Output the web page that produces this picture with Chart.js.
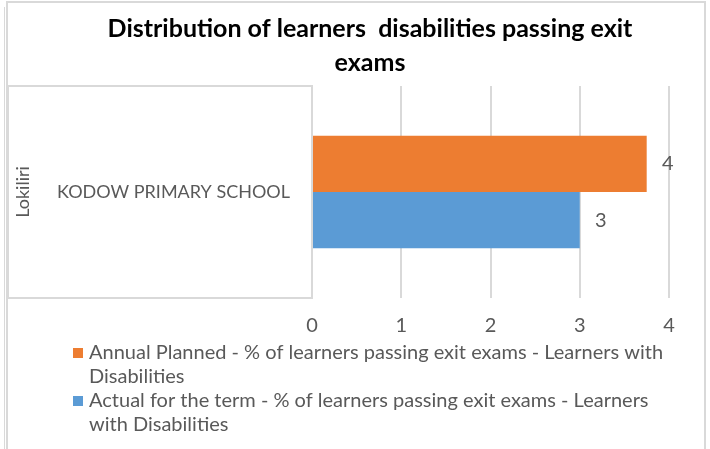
<!DOCTYPE html>
<html>
<head>
<meta charset="utf-8">
<script src="https://cdn.jsdelivr.net/npm/chart.js@4.4.1/dist/chart.umd.min.js"></script>
<style>
  html, body { margin: 0; padding: 0; background: #fff; }
  #wrap { width: 710px; height: 449px; }
</style>
</head>
<body>
<div id="wrap"><canvas id="chart" width="710" height="449"></canvas></div>
<script>
// data
const titleLines = ['Distribution of learners  disabilities passing exit', 'exams'];
const groupLabel = 'Lokiliri';
const categories = ['KODOW PRIMARY SCHOOL'];
const seriesNames = [
  'Annual Planned - % of learners passing exit exams - Learners with Disabilities',
  'Actual for the term - % of learners passing exit exams - Learners with Disabilities'
];
const plannedValues = [3.75];
const actualValues = [3];
const seriesColors = ['#ED7D31', '#5B9BD5'];
const xMin = 0;
const xMax = 4;
const xStep = 1;

const FONT = 'Lato, "Open Sans", sans-serif';
const TEXT = '#595959';
const GRID = '#D9D9D9';

// frame, title, box around the category axis
const framePlugin = {
  id: 'frame',
  beforeDraw(chart) {
    const ctx = chart.ctx;
    const area = chart.chartArea;
    const y = chart.scales.y;
    ctx.save();
    ctx.strokeStyle = GRID;
    ctx.lineWidth = 2;
    ctx.beginPath();
    ctx.moveTo(7, chart.height);
    ctx.lineTo(7, 2);
    ctx.lineTo(705, 2);
    ctx.lineTo(705, chart.height);
    ctx.stroke();
    ctx.lineWidth = 1;
    ctx.beginPath();
    ctx.moveTo(4.5, 7);
    ctx.lineTo(4.5, chart.height);
    ctx.stroke();
    // box around category labels
    ctx.lineWidth = 2;
    ctx.strokeRect(y.left, area.top, area.left - y.left, area.bottom - area.top);
    ctx.restore();
  },
  afterDraw(chart) {
    const ctx = chart.ctx;
    ctx.save();
    ctx.fillStyle = '#000';
    ctx.font = 'bold 25px ' + FONT;
    ctx.textAlign = 'center';
    ctx.textBaseline = 'middle';
    titleLines.forEach((t, i) => ctx.fillText(t, 370, 29 + i * 34));
    ctx.restore();
  }
};

// value labels at the end of the bars
const valueLabels = {
  id: 'valueLabels',
  afterDatasetsDraw(chart) {
    const ctx = chart.ctx;
    ctx.save();
    ctx.fillStyle = TEXT;
    ctx.font = '20px ' + FONT;
    ctx.textAlign = 'center';
    ctx.textBaseline = 'middle';
    chart.data.datasets.forEach((ds, i) => {
      chart.getDatasetMeta(i).data.forEach((bar, j) => {
        ctx.fillText(String(Math.round(ds.data[j])), bar.x + 21, bar.y);
      });
    });
    ctx.restore();
  }
};

// legend under the axis, wrapped like the original
const wrapLegend = {
  id: 'wrapLegend',
  afterDraw(chart) {
    const ctx = chart.ctx;
    const maxW = 580;
    let y = 353;
    ctx.save();
    ctx.font = '20px ' + FONT;
    ctx.textBaseline = 'middle';
    chart.data.datasets.forEach(ds => {
      const words = ds.label.split(' ');
      const lines = [];
      let line = '';
      words.forEach(w => {
        const test = line ? line + ' ' + w : w;
        if (ctx.measureText(test).width > maxW && line) {
          lines.push(line);
          line = w;
        } else {
          line = test;
        }
      });
      lines.push(line);
      ctx.fillStyle = ds.backgroundColor;
      ctx.fillRect(73, y - 5, 10, 10);
      ctx.fillStyle = TEXT;
      lines.forEach((l, k) => ctx.fillText(l, 89, y + k * 24));
      y += lines.length * 24;
    });
    ctx.restore();
  }
};

new Chart(document.getElementById('chart'), {
  type: 'bar',
  data: {
    labels: categories,
    datasets: [
      { label: seriesNames[0], data: plannedValues, backgroundColor: seriesColors[0] },
      { label: seriesNames[1], data: actualValues, backgroundColor: seriesColors[1] }
    ]
  },
  options: {
    indexAxis: 'y',
    responsive: false,
    animation: false,
    categoryPercentage: 0.53,
    barPercentage: 1,
    layout: { padding: { left: 8, right: 41, top: 86, bottom: 95 } },
    plugins: {
      legend: { display: false },
      title: { display: false },
      tooltip: { enabled: false }
    },
    scales: {
      x: {
        min: xMin,
        max: xMax,
        ticks: { stepSize: xStep, color: TEXT, font: { family: FONT, size: 20 }, padding: 16 },
        grid: { color: GRID, lineWidth: 2, drawTicks: false },
        border: { display: false }
      },
      y: {
        ticks: { color: TEXT, font: { family: FONT, size: 18 }, padding: 22 },
        grid: { display: false, drawTicks: false },
        border: { display: false },
        title: { display: true, text: groupLabel, color: TEXT, font: { family: FONT, size: 18 }, padding: { top: 4, bottom: 0 } },
        afterFit(scale) { scale.width = 304; }
      }
    }
  },
  plugins: [framePlugin, valueLabels, wrapLegend]
});
</script>
</body>
</html>
